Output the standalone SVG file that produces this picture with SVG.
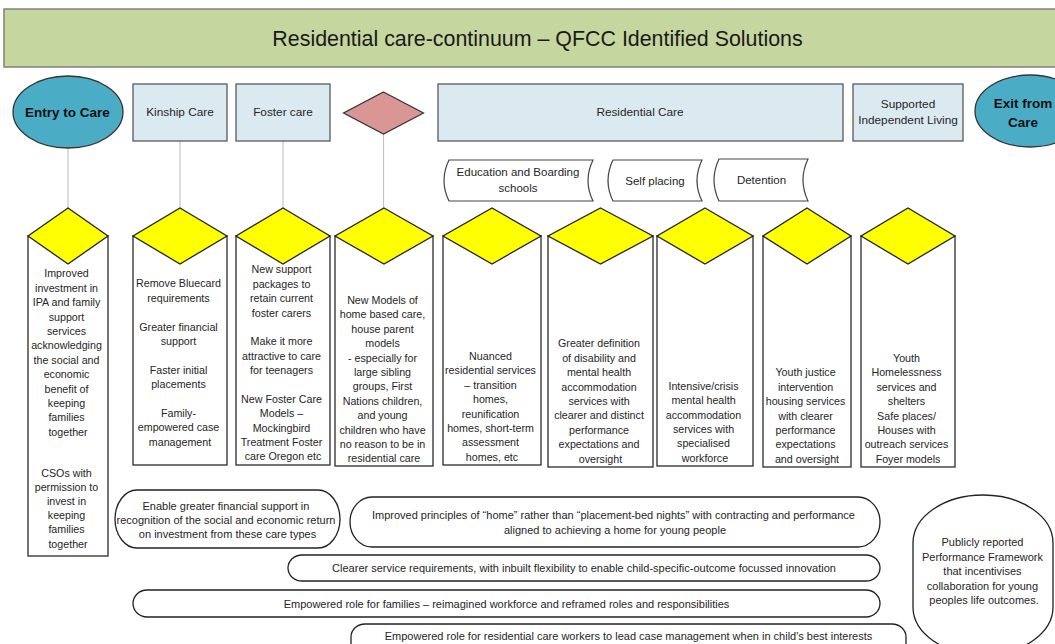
<svg xmlns="http://www.w3.org/2000/svg" width="1055" height="644" viewBox="0 0 1055 644">
  <style>
    text { font-family: "Liberation Sans", Arial, sans-serif; fill: #262626; text-anchor: middle; }
    .title { font-size: 21.4px; fill: #1a1a1a; }
    .lbl { font-size: 11.8px; }
    .hd { font-size: 13.5px; font-weight: bold; fill: #111; }
    .col { font-size: 10.7px; }
    .pill { font-size: 11px; }
    .tag { font-size: 11.5px; }
    .band { fill: #dbeaf1; stroke: #5a5a5a; stroke-width: 1.3; }
    .oval { fill: #4bacc6; stroke: #333; stroke-width: 1.3; }
    .box { fill: #ffffff; stroke: #2b2b2b; stroke-width: 1.3; }
    .gem { fill: #ffff00; stroke: #222; stroke-width: 1.3; stroke-linejoin: miter; }
    .store { fill: #ffffff; stroke: #444; stroke-width: 1.2; }
    .round { fill: #ffffff; stroke: #222; stroke-width: 1.3; }
    .link { stroke: #c4c4c4; stroke-width: 1.2; fill: none; }
  </style>

  <rect x="0" y="0" width="1055" height="644" fill="#ffffff"/>

  <!-- heading bar -->
  <g id="title">
    <rect x="4" y="9" width="1060" height="58" fill="#c5d69e" stroke="#808080" stroke-width="1.5"/>
    <text class="title" x="537.5" y="45.5">Residential care-continuum – QFCC Identified Solutions</text>
  </g>

  <!-- connectors from the top stages down to the solution columns -->
  <g id="connectors">
    <line class="link" x1="68" y1="148" x2="68" y2="208"/>
    <line class="link" x1="180" y1="141" x2="180" y2="208"/>
    <line class="link" x1="283" y1="141" x2="283" y2="208"/>
    <line class="link" x1="383.5" y1="134" x2="383.5" y2="208"/>
  </g>

  <!-- top row: stages of care -->
  <g id="entry-to-care">
    <ellipse class="oval" cx="68" cy="112" rx="55" ry="36"/>
    <text class="hd" x="67.5" y="116.5">Entry to Care</text>
  </g>
  <g id="kinship-care">
    <rect class="band" x="133" y="84" width="94" height="57"/>
    <text class="lbl" x="180" y="116">Kinship Care</text>
  </g>
  <g id="foster-care">
    <rect class="band" x="236" y="84" width="94" height="57"/>
    <text class="lbl" x="283" y="116">Foster care</text>
  </g>
  <g id="home-based-stage">
    <polygon points="383.5,92 423.5,113 383.5,134 343.5,113" fill="#d99694" stroke="#333" stroke-width="1.2"/>
  </g>
  <g id="residential-care">
    <rect class="band" x="438" y="84" width="405" height="57"/>
    <text class="lbl" x="640" y="116">Residential Care</text>
  </g>
  <g id="supported-independent-living">
    <rect class="band" x="853" y="84" width="110" height="57"/>
    <text class="lbl" x="908" y="108">Supported</text>
    <text class="lbl" x="908" y="124">Independent Living</text>
  </g>
  <g id="exit-from-care">
    <ellipse class="oval" cx="1030" cy="111" rx="55" ry="36"/>
    <text class="hd" x="1023" y="107.5">Exit from</text>
    <text class="hd" x="1023" y="126.5">Care</text>
  </g>

  <!-- residential sub-types (stored-data shapes) -->
  <g id="education-boarding">
    <path class="store" d="M449,160 L593,160 Q583,180.5 593,201 L449,201 Q439,180.5 449,160 Z"/>
    <text class="tag" x="518" y="176">Education and Boarding</text>
    <text class="tag" x="518" y="192">schools</text>
  </g>
  <g id="self-placing">
    <path class="store" d="M613,160 L702,160 Q692,180.5 702,201 L613,201 Q603,180.5 613,160 Z"/>
    <text class="tag" x="655" y="185">Self placing</text>
  </g>
  <g id="detention">
    <path class="store" d="M719,159 L808,159 Q798,180 808,201 L719,201 Q709,180 719,159 Z"/>
    <text class="tag" x="761.5" y="184">Detention</text>
  </g>

  <!-- solution columns -->
  <g id="col-entry">
    <rect class="box" x="28" y="236" width="80" height="320"/>
    <polygon class="gem" points="68,208 108,236 68,264 28,236"/>
    <text class="col" x="68" y="277.3">
      <tspan x="68">Improved</tspan>
      <tspan x="68" dy="14.4">investment in</tspan>
      <tspan x="68" dy="14.4">IPA and family</tspan>
      <tspan x="68" dy="14.4">support</tspan>
      <tspan x="68" dy="14.4">services</tspan>
      <tspan x="68" dy="14.4">acknowledging</tspan>
      <tspan x="68" dy="14.4">the social and</tspan>
      <tspan x="68" dy="14.4">economic</tspan>
      <tspan x="68" dy="14.4">benefit of</tspan>
      <tspan x="68" dy="14.4">keeping</tspan>
      <tspan x="68" dy="14.4">families</tspan>
      <tspan x="68" dy="14.4">together</tspan>
    </text>
    <text class="col" x="68" y="477">
      <tspan x="68">CSOs with</tspan>
      <tspan x="68" dy="14.1">permission to</tspan>
      <tspan x="68" dy="14.1">invest in</tspan>
      <tspan x="68" dy="14.1">keeping</tspan>
      <tspan x="68" dy="14.1">families</tspan>
      <tspan x="68" dy="14.1">together</tspan>
    </text>
  </g>

  <g id="col-kinship">
    <rect class="box" x="133" y="236" width="94" height="229"/>
    <polygon class="gem" points="180,208 227,236 180,264 133,236"/>
    <text class="col" x="180" y="287.3">
      <tspan x="180">Remove Bluecard</tspan>
      <tspan x="180" dy="14.4">requirements</tspan>
      <tspan x="180" dy="28.8">Greater financial</tspan>
      <tspan x="180" dy="14.4">support</tspan>
      <tspan x="180" dy="28.8">Faster initial</tspan>
      <tspan x="180" dy="14.4">placements</tspan>
      <tspan x="180" dy="28.8">Family-</tspan>
      <tspan x="180" dy="14.4">empowered case</tspan>
      <tspan x="180" dy="14.4">management</tspan>
    </text>
  </g>

  <g id="col-foster">
    <rect class="box" x="236" y="236" width="94" height="229"/>
    <polygon class="gem" points="283,208 330,236 283,264 236,236"/>
    <text class="col" x="283" y="273.3">
      <tspan x="283">New support</tspan>
      <tspan x="283" dy="14.4">packages to</tspan>
      <tspan x="283" dy="14.4">retain current</tspan>
      <tspan x="283" dy="14.4">foster carers</tspan>
      <tspan x="283" dy="28.8">Make it more</tspan>
      <tspan x="283" dy="14.4">attractive to care</tspan>
      <tspan x="283" dy="14.4">for teenagers</tspan>
      <tspan x="283" dy="28.8">New Foster Care</tspan>
      <tspan x="283" dy="14.4">Models –</tspan>
      <tspan x="283" dy="14.4">Mockingbird</tspan>
      <tspan x="283" dy="14.4">Treatment Foster</tspan>
      <tspan x="283" dy="14.4">care Oregon etc</tspan>
    </text>
  </g>

  <g id="col-home-based">
    <rect class="box" x="335" y="236" width="98" height="230"/>
    <polygon class="gem" points="384,208 433,236 384,264 335,236"/>
    <text class="col" x="384" y="304">
      <tspan x="384">New Models of</tspan>
      <tspan x="384" dy="14.4">home based care,</tspan>
      <tspan x="384" dy="14.4">house parent</tspan>
      <tspan x="384" dy="14.4">models</tspan>
      <tspan x="384" dy="14.4">- especially for</tspan>
      <tspan x="384" dy="14.4">large sibling</tspan>
      <tspan x="384" dy="14.4">groups, First</tspan>
      <tspan x="384" dy="14.4">Nations children,</tspan>
      <tspan x="384" dy="14.4">and young</tspan>
      <tspan x="384" dy="14.4">children who have</tspan>
      <tspan x="384" dy="14.4">no reason to be in</tspan>
      <tspan x="384" dy="14.4">residential care</tspan>
    </text>
  </g>

  <g id="col-nuanced">
    <rect class="box" x="443" y="236" width="98" height="229"/>
    <polygon class="gem" points="492,208 541,236 492,264 443,236"/>
    <text class="col" x="492" y="360">
      <tspan x="492">Nuanced</tspan>
      <tspan x="492" dy="14.4">residential services</tspan>
      <tspan x="492" dy="14.4">– transition</tspan>
      <tspan x="492" dy="14.4">homes,</tspan>
      <tspan x="492" dy="14.4">reunification</tspan>
      <tspan x="492" dy="14.4">homes, short-term</tspan>
      <tspan x="492" dy="14.4">assessment</tspan>
      <tspan x="492" dy="14.4">homes, etc</tspan>
    </text>
  </g>

  <g id="col-disability">
    <rect class="box" x="548" y="236" width="105" height="231"/>
    <polygon class="gem" points="600.5,208 653,236 600.5,264 548,236"/>
    <text class="col" x="600.5" y="347.3">
      <tspan x="600.5">Greater definition</tspan>
      <tspan x="600.5" dy="14.4">of disability and</tspan>
      <tspan x="600.5" dy="14.4">mental health</tspan>
      <tspan x="600.5" dy="14.4">accommodation</tspan>
      <tspan x="600.5" dy="14.4">services with</tspan>
      <tspan x="600.5" dy="14.4">clearer and distinct</tspan>
      <tspan x="600.5" dy="14.4">performance</tspan>
      <tspan x="600.5" dy="14.4">expectations and</tspan>
      <tspan x="600.5" dy="14.4">oversight</tspan>
    </text>
  </g>

  <g id="col-crisis">
    <rect class="box" x="657" y="236" width="96" height="230"/>
    <polygon class="gem" points="705,208 753,236 705,264 657,236"/>
    <text class="col" x="705" y="389.7">
      <tspan x="705">Intensive/crisis</tspan>
      <tspan x="705" dy="14.4">mental health</tspan>
      <tspan x="705" dy="14.4">accommodation</tspan>
      <tspan x="705" dy="14.4">services with</tspan>
      <tspan x="705" dy="14.4">specialised</tspan>
      <tspan x="705" dy="14.4">workforce</tspan>
    </text>
  </g>

  <g id="col-youth-justice">
    <rect class="box" x="763" y="236" width="88" height="231"/>
    <polygon class="gem" points="807,208 851,236 807,264 763,236"/>
    <text class="col" x="807" y="376.3">
      <tspan x="807">Youth justice</tspan>
      <tspan x="807" dy="14.4">intervention</tspan>
      <tspan x="807" dy="14.4">housing services</tspan>
      <tspan x="807" dy="14.4">with clearer</tspan>
      <tspan x="807" dy="14.4">performance</tspan>
      <tspan x="807" dy="14.4">expectations</tspan>
      <tspan x="807" dy="14.4">and oversight</tspan>
    </text>
  </g>

  <g id="col-homelessness">
    <rect class="box" x="861" y="236" width="94" height="231"/>
    <polygon class="gem" points="908,208 955,236 908,264 861,236"/>
    <text class="col" x="908" y="362">
      <tspan x="908">Youth</tspan>
      <tspan x="908" dy="14.4">Homelessness</tspan>
      <tspan x="908" dy="14.4">services and</tspan>
      <tspan x="908" dy="14.4">shelters</tspan>
      <tspan x="908" dy="14.4">Safe places/</tspan>
      <tspan x="908" dy="14.4">Houses with</tspan>
      <tspan x="908" dy="14.4">outreach services</tspan>
      <tspan x="908" dy="14.4">Foyer models</tspan>
    </text>
  </g>

  <!-- cross-cutting enablers -->
  <g id="enabler-financial">
    <rect class="round" x="115" y="490" width="225" height="58" rx="22" ry="29"/>
    <text class="pill" x="227.5" y="509.5">
      <tspan x="227.5">Enable greater financial support in</tspan>
      <tspan x="227.5" dy="14.2">recognition of the social and economic return</tspan>
      <tspan x="227.5" dy="14.2">on investment from these care types</tspan>
    </text>
  </g>
  <g id="enabler-home">
    <rect class="round" x="350" y="497" width="530" height="50" rx="22" ry="25"/>
    <text class="pill" x="615" y="519">
      <tspan x="615">Improved principles of “home” rather than “placement-bed nights” with contracting and performance</tspan>
      <tspan x="615" dy="15">aligned to achieving a home for young people</tspan>
    </text>
  </g>
  <g id="enabler-service-requirements">
    <rect class="round" x="288" y="555" width="592" height="26" rx="14" ry="13"/>
    <text class="pill" x="584" y="572">Clearer service requirements, with inbuilt flexibility to enable child-specific-outcome focussed innovation</text>
  </g>
  <g id="enabler-families">
    <rect class="round" x="133" y="590" width="747" height="27" rx="14" ry="13.5"/>
    <text class="pill" x="506.5" y="608">Empowered role for families – reimagined workforce and reframed roles and responsibilities</text>
  </g>
  <g id="enabler-workers">
    <rect class="round" x="351" y="624" width="555" height="34" rx="14" ry="13"/>
    <text class="pill" x="628.5" y="640">Empowered role for residential care workers to lead case management when in child's best interests</text>
  </g>
  <g id="performance-framework">
    <rect class="round" x="913" y="495" width="140" height="160" rx="70" ry="48"/>
    <text class="pill" x="984" y="546">
      <tspan x="984">Publicly reported</tspan>
      <tspan x="984" dy="14.5">Performance Framework</tspan>
      <tspan x="984" dy="14.5">that incentivises</tspan>
      <tspan x="984" dy="14.5">collaboration for young</tspan>
      <tspan x="984" dy="14.5">peoples life outcomes.</tspan>
    </text>
  </g>
</svg>
